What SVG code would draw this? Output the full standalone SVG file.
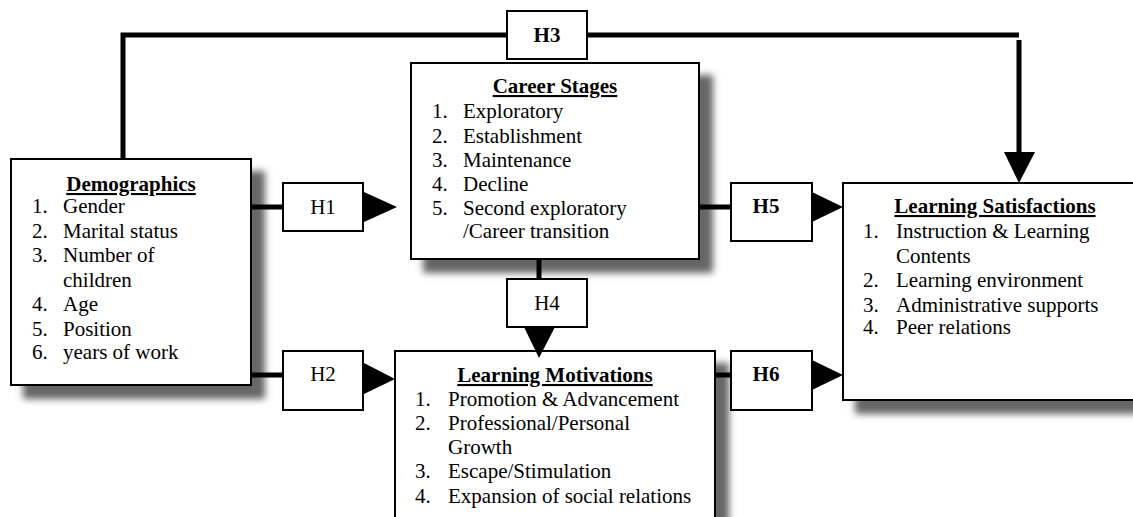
<svg xmlns="http://www.w3.org/2000/svg" width="1133" height="517" viewBox="0 0 1133 517">
<style>
text{font-family:"Liberation Serif","Times New Roman",serif;font-size:21px;fill:#000}
.t{font-weight:bold;text-decoration:underline;text-anchor:middle}
.h{text-anchor:middle}
.b{font-weight:bold}
.box{fill:#fff;stroke:#000;stroke-width:2}
.sh{filter:url(#ds)}
.ln{fill:none;stroke:#000;stroke-width:5}
.ah{fill:#000}
</style>
<defs>
<filter id="ds" x="-10%" y="-10%" width="130%" height="140%">
<feDropShadow dx="13" dy="13" stdDeviation="3.5" flood-color="#666" flood-opacity="1"/>
</filter>
</defs>
<g id="demographics">
<rect class="box sh" x="11" y="159" width="240" height="226"/>
<text class="t" x="131" y="191">Demographics</text>
<text x="32" y="213">1.</text><text x="63" y="213">Gender</text>
<text x="32" y="238">2.</text><text x="63" y="238">Marital status</text>
<text x="32" y="262">3.</text><text x="63" y="262">Number of</text>
<text x="63" y="287">children</text>
<text x="32" y="311">4.</text><text x="63" y="311">Age</text>
<text x="32" y="336">5.</text><text x="63" y="336">Position</text>
<text x="32" y="359">6.</text><text x="63" y="359">years of work</text>
</g>
<g id="career">
<rect class="box sh" x="411" y="63" width="288" height="196"/>
<text class="t" x="555" y="93">Career Stages</text>
<text x="432" y="118">1.</text><text x="463" y="118">Exploratory</text>
<text x="432" y="143">2.</text><text x="463" y="143">Establishment</text>
<text x="432" y="167">3.</text><text x="463" y="167">Maintenance</text>
<text x="432" y="191">4.</text><text x="463" y="191">Decline</text>
<text x="432" y="215">5.</text><text x="463" y="215">Second exploratory</text>
<text x="463" y="238">/Career transition</text>
</g>
<g id="motivations">
<rect class="box sh" x="395" y="351" width="320" height="190"/>
<text class="t" x="555" y="382">Learning Motivations</text>
<text x="415" y="406">1.</text><text x="448" y="406">Promotion &amp; Advancement</text>
<text x="415" y="430">2.</text><text x="448" y="430">Professional/Personal</text>
<text x="448" y="454">Growth</text>
<text x="415" y="478">3.</text><text x="448" y="478">Escape/Stimulation</text>
<text x="415" y="503">4.</text><text x="448" y="503">Expansion of social relations</text>
</g>
<g id="satisfactions">
<rect class="box sh" x="843" y="183" width="310" height="217"/>
<text class="t" x="995" y="213">Learning Satisfactions</text>
<text x="863" y="238">1.</text><text x="896" y="238">Instruction &amp; Learning</text>
<text x="896" y="263">Contents</text>
<text x="863" y="287">2.</text><text x="896" y="287">Learning environment</text>
<text x="863" y="312">3.</text><text x="896" y="312">Administrative supports</text>
<text x="863" y="334">4.</text><text x="896" y="334">Peer relations</text>
</g>
<g id="connectors">
<polyline class="ln" points="123,159 123,35 507,35"/>
<polyline class="ln" points="587,35 1019,35"/>
<line class="ln" x1="1019" y1="40" x2="1019" y2="154"/>
<polygon class="ah" points="1004,152 1035,152 1019,183"/>
<line class="ln" x1="251" y1="207" x2="283" y2="207"/>
<polygon class="ah" points="364,192 397,207 364,222"/>
<line class="ln" x1="251" y1="375" x2="283" y2="375"/>
<polygon class="ah" points="364,363 395,379 364,394"/>
<line class="ln" x1="539" y1="259" x2="539" y2="279"/>
<polygon class="ah" points="524,327 555,327 539,358"/>
<line class="ln" x1="699" y1="207" x2="731" y2="207"/>
<polygon class="ah" points="812,192 843,207 812,222"/>
<line class="ln" x1="715" y1="375" x2="731" y2="375"/>
<polygon class="ah" points="812,360 843,375 812,390"/>
</g>
<g id="h3"><rect class="box" x="507" y="11" width="80" height="48"/><text class="h b" x="547" y="42">H3</text></g>
<g id="h1"><rect class="box" x="283" y="183" width="80" height="48"/><text class="h" x="323" y="214">H1</text></g>
<g id="h2"><rect class="box" x="283" y="351" width="80" height="59"/><text class="h" x="323" y="381">H2</text></g>
<g id="h4"><rect class="box" x="507" y="279" width="80" height="48"/><text class="h" x="547" y="310">H4</text></g>
<g id="h5"><rect class="box" x="731" y="183" width="81" height="58"/><text class="h b" x="766" y="213">H5</text></g>
<g id="h6"><rect class="box" x="731" y="351" width="81" height="59"/><text class="h b" x="766" y="381">H6</text></g>
</svg>
